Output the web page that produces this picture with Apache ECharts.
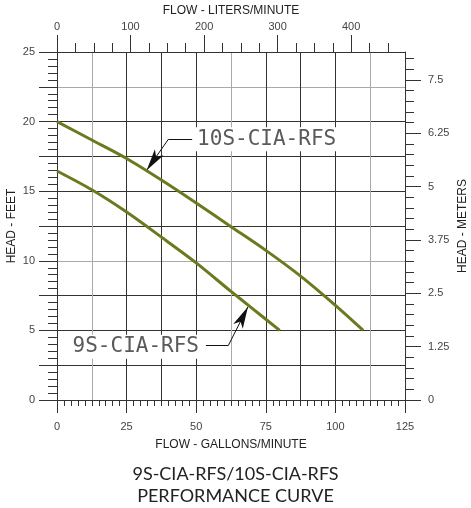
<!DOCTYPE html>
<html><head><meta charset="utf-8">
<script src="https://cdn.jsdelivr.net/npm/echarts@6/dist/echarts.min.js"></script>
<style>html,body{margin:0;padding:0;background:#fff}#c{width:471px;height:508px}</style>
</head><body><div id="c"></div><script>
// ---- data ----
const gpmTicks = [0, 25, 50, 75, 100, 125];
const literTicks = [0, 100, 200, 300, 400];
const feetTicks = [0, 5, 10, 15, 20, 25];
const meterTicks = [0, 1.25, 2.5, 3.75, 5, 6.25, 7.5];

const flow10S = [0, 12.5, 25, 37.5, 50, 62.5, 75, 87.5, 100, 110];
const head10S = [20, 18.68, 17.35, 15.8, 14.15, 12.45, 10.75, 8.9, 6.8, 5];
const flow9S = [0, 12.5, 25, 37.5, 50, 62.5, 70, 80];
const head9S = [16.45, 15.1, 13.5, 11.7, 9.85, 7.8, 6.6, 5];

const seriesNames = ['10S-CIA-RFS', '9S-CIA-RFS'];
const titleLines = ['9S-CIA-RFS/10S-CIA-RFS', 'PERFORMANCE CURVE'];

// axis extents
const gpmMax = 125;
const literMax = 125 * 3.78541;
const feetMax = 25;
const meterMax = 8.156;

// minor tick values
function steps(from, to, step) { const a = []; for (let v = from; v <= to + 1e-9; v += step) a.push(+v.toFixed(4)); return a; }
const gpmMinor = steps(0, 125, 2.5);
const literMinor = steps(0, 450, 25);
const feetMid = steps(0, 25, 2.5);
const feetMinor = steps(0, 25, 0.5);
const meterMinor = steps(0, 8, 0.25);

// annotation anchors (data units: gpm, feet)
const ann10S = { text: [75.3, 18.73], lead: [[48.6, 18.73], [40.0, 18.73]], tip: [32.2, 16.5] };
const ann9S = { text: [28.3, 3.83], lead: [[53.5, 3.9], [61.5, 3.9]], tip: [68.6, 6.7] };

// ---- styles ----
const lineDark = '#333';
const axisLine = { show: true, onZero: false, lineStyle: { color: lineDark, width: 1 } };
const tickLine = { color: lineDark, width: 1 };
const lbl = { color: '#444', fontSize: 11, fontFamily: 'Liberation Sans' };
const nameStyle = { color: '#222', fontSize: 12, fontFamily: 'Liberation Sans' };
const curveColor = '#6b7a1e';
const annFont = { color: '#5a5a5a', fontSize: 21, fontFamily: 'DejaVu Sans Mono' };

const hidden = { axisLine: { show: false, onZero: false }, axisLabel: { show: false }, splitLine: { show: false } };

const chart = echarts.init(document.getElementById('c'), null, { renderer: 'canvas' });

function zip(a, b) { return a.map((v, i) => [v, b[i]]); }

function annotation(a, label, boxW) {
  return {
    markLine: {
      silent: true, animation: false,
      symbol: ['none', 'none'],
      lineStyle: { color: '#111', width: 1, type: 'solid' },
      label: { show: false },
      emphasis: { disabled: true },
      data: [
        [{ coord: a.lead[0], symbol: 'none' }, { coord: a.lead[1], symbol: 'none' }],
        [{ coord: a.lead[1], symbol: 'none' }, { coord: a.tip, symbol: 'arrow', symbolSize: [8, 22] }]
      ]
    },
    markPoint: {
      silent: true, animation: false,
      data: [{
        coord: a.text, symbol: 'rect', symbolSize: [boxW, 24],
        itemStyle: { color: '#fff' },
        label: Object.assign({ show: true, position: 'inside', formatter: label }, annFont)
      }]
    }
  };
}

const option = {
  animation: false,
  backgroundColor: '#fff',
  title: {
    text: titleLines.join('\n'),
    left: 'center', top: 458,
    textStyle: { fontFamily: 'Lato', fontWeight: 'normal', fontSize: 18, lineHeight: 22, color: '#222' }
  },
  grid: { left: 57, top: 52, width: 348, height: 348, containLabel: false, outerBoundsMode: 'none' },
  xAxis: [
    { type: 'value', position: 'bottom', min: 0, max: gpmMax,
      axisLine: axisLine,
      axisTick: { show: true, length: 13, customValues: gpmTicks, lineStyle: tickLine },
      axisLabel: Object.assign({ customValues: gpmTicks, margin: 21 }, lbl),
      splitLine: { show: false },
      name: 'FLOW - GALLONS/MINUTE', nameLocation: 'middle', nameGap: 39, nameMoveOverlap: false, nameTextStyle: nameStyle },
    Object.assign({ type: 'value', position: 'bottom', min: 0, max: gpmMax,
      axisTick: { show: true, length: 6, customValues: gpmMinor, lineStyle: tickLine } }, hidden),
    { type: 'value', position: 'bottom', min: 0, max: gpmMax, interval: 12.5,
      axisLine: { show: false, onZero: false }, axisTick: { show: false }, axisLabel: { show: false },
      splitLine: { show: true, lineStyle: { color: [lineDark, '#aaa', lineDark, lineDark], width: 1 } } },
    { type: 'value', position: 'top', min: 0, max: literMax,
      axisLine: axisLine,
      axisTick: { show: true, length: 17, customValues: literTicks, lineStyle: tickLine },
      axisLabel: Object.assign({ customValues: literTicks, margin: 20 }, lbl),
      splitLine: { show: false },
      name: 'FLOW - LITERS/MINUTE', nameLocation: 'middle', nameGap: 35, nameMoveOverlap: false, nameTextStyle: nameStyle },
    Object.assign({ type: 'value', position: 'top', min: 0, max: literMax,
      axisTick: { show: true, length: 9, customValues: literMinor, lineStyle: tickLine } }, hidden)
  ],
  yAxis: [
    { type: 'value', position: 'left', min: 0, max: feetMax,
      axisLine: axisLine,
      axisTick: { show: true, length: 18, customValues: feetMid, lineStyle: tickLine },
      axisLabel: Object.assign({ customValues: feetTicks, margin: 22 }, lbl),
      splitLine: { show: false },
      name: 'HEAD - FEET', nameLocation: 'middle', nameGap: 39, nameRotate: 90, nameMoveOverlap: false, nameTextStyle: nameStyle },
    Object.assign({ type: 'value', position: 'left', min: 0, max: feetMax,
      axisTick: { show: true, length: 9, customValues: feetMinor, lineStyle: tickLine } }, hidden),
    { type: 'value', position: 'left', min: 0, max: feetMax, interval: 2.5,
      axisLine: { show: false, onZero: false }, axisTick: { show: false }, axisLabel: { show: false },
      splitLine: { show: true, lineStyle: { color: [lineDark, lineDark, lineDark, lineDark, '#aaa'], width: 1 } } },
    { type: 'value', position: 'right', min: 0, max: meterMax,
      axisLine: axisLine,
      axisTick: { show: true, length: 16, customValues: meterTicks, lineStyle: tickLine },
      axisLabel: Object.assign({ customValues: meterTicks, margin: 23 }, lbl),
      splitLine: { show: false },
      name: 'HEAD - METERS', nameLocation: 'middle', nameGap: 52, nameRotate: 90, nameMoveOverlap: false, nameTextStyle: nameStyle },
    Object.assign({ type: 'value', position: 'right', min: 0, max: meterMax,
      axisTick: { show: true, length: 9, customValues: meterMinor, lineStyle: tickLine } }, hidden)
  ],
  series: [
    Object.assign({
      name: seriesNames[0], type: 'line', xAxisIndex: 0, yAxisIndex: 0,
      data: zip(flow10S, head10S), smooth: 0.3, showSymbol: false, symbol: 'none',
      lineStyle: { color: curveColor, width: 3 }, itemStyle: { color: curveColor }, z: 5
    }, annotation(ann10S, seriesNames[0], 148)),
    Object.assign({
      name: seriesNames[1], type: 'line', xAxisIndex: 0, yAxisIndex: 0,
      data: zip(flow9S, head9S), smooth: 0.3, showSymbol: false, symbol: 'none',
      lineStyle: { color: curveColor, width: 3 }, itemStyle: { color: curveColor }, z: 5
    }, annotation(ann9S, seriesNames[1], 136))
  ]
};
chart.setOption(option);
</script></body></html>
